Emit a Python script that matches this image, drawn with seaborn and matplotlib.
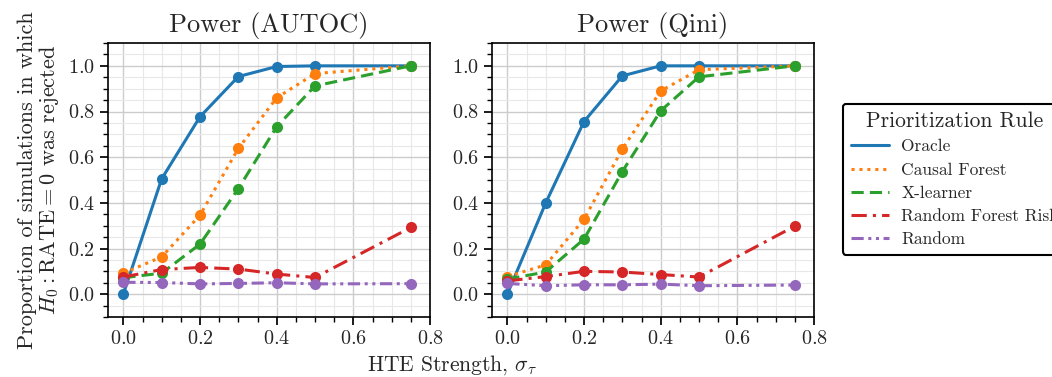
import numpy as np
import pandas as pd
import matplotlib
matplotlib.use("Agg")
import matplotlib.pyplot as plt
from matplotlib.lines import Line2D
from matplotlib.ticker import MultipleLocator
import seaborn as sns

strength = [0.0, 0.1, 0.2, 0.3, 0.4, 0.5, 0.75]
rules = ["Oracle", "Causal Forest", "X-learner", "Random Forest Risk", "Random"]

autoc_oracle = [0.0, 0.505, 0.777, 0.953, 0.997, 1.0, 1.0]
autoc_cf = [0.092, 0.163, 0.346, 0.638, 0.86, 0.966, 1.0]
autoc_xl = [0.072, 0.092, 0.219, 0.462, 0.733, 0.912, 1.0]
autoc_rfr = [0.075, 0.108, 0.117, 0.11, 0.088, 0.073, 0.292]
autoc_rand = [0.052, 0.051, 0.045, 0.047, 0.05, 0.045, 0.046]

qini_oracle = [0.0, 0.399, 0.756, 0.956, 1.0, 1.0, 1.0]
qini_cf = [0.077, 0.128, 0.328, 0.635, 0.89, 0.983, 1.0]
qini_xl = [0.066, 0.097, 0.241, 0.537, 0.803, 0.952, 1.0]
qini_rfr = [0.058, 0.077, 0.1, 0.097, 0.086, 0.075, 0.298]
qini_rand = [0.047, 0.037, 0.041, 0.041, 0.044, 0.037, 0.04]

titles = ["Power (AUTOC)", "Power (Qini)"]

def make_df(series):
    rows = []
    for rule, vals in zip(rules, series):
        for x, v in zip(strength, vals):
            rows.append({"strength": x, "power": v, "rule": rule})
    return pd.DataFrame(rows)

dfs = [make_df([autoc_oracle, autoc_cf, autoc_xl, autoc_rfr, autoc_rand]),
       make_df([qini_oracle, qini_cf, qini_xl, qini_rfr, qini_rand])]

sns.set_theme(style="ticks")
plt.rcParams["font.family"] = ["cmr10", "DejaVu Serif"]
plt.rcParams["mathtext.fontset"] = "cm"
plt.rcParams["axes.formatter.use_mathtext"] = True
plt.rcParams["axes.unicode_minus"] = False

palette = dict(zip(rules, sns.color_palette("tab10", 5)))
dashes = {"Oracle": "",
          "Causal Forest": (1, 1.6),
          "X-learner": (4, 2),
          "Random Forest Risk": (5, 2, 1, 2),
          "Random": (4, 1.5, 1, 1.5, 1, 1.5)}
markers = {r: "o" for r in rules}

fig = plt.figure(figsize=(10.52, 3.77), dpi=100)
W, H = 1052, 377
axes = [fig.add_axes([108 / W, 60 / H, 322 / W, 274 / H]),
        fig.add_axes([492 / W, 60 / H, 322 / W, 274 / H])]

for ax, df, title in zip(axes, dfs, titles):
    sns.lineplot(data=df, x="strength", y="power", hue="rule", style="rule",
                 palette=palette, dashes=dashes, markers=markers,
                 markersize=8, markeredgewidth=0, linewidth=2.2,
                 legend=False, ax=ax, zorder=3)
    ax.set_xlim(-0.04, 0.8)
    ax.set_ylim(-0.1, 1.1)
    ax.xaxis.set_major_locator(MultipleLocator(0.2))
    ax.xaxis.set_minor_locator(MultipleLocator(0.05))
    ax.yaxis.set_major_locator(MultipleLocator(0.2))
    ax.yaxis.set_minor_locator(MultipleLocator(0.05))
    ax.grid(which="major", color="#cccccc", linewidth=1.0)
    ax.grid(which="minor", color="#e8e8e8", linewidth=0.8)
    ax.set_axisbelow(True)
    ax.tick_params(which="both", direction="out", labelsize=14.5, color="black", pad=4)
    ax.tick_params(which="major", length=5.5)
    ax.tick_params(which="minor", length=3.5)
    for s in ax.spines.values():
        s.set_color("black")
        s.set_linewidth(1.2)
    ax.set_title(title, fontsize=19, pad=8)
    ax.set_xlabel("")
    ax.set_ylabel("")

axes[0].set_ylabel("Proportion of simulations in which\n$H_0: \\mathrm{RATE} = 0$ was rejected",
                   fontsize=16, labelpad=5, linespacing=1.0)
fig.text(452 / W, 1 - 365 / H, "HTE Strength, $\\sigma_\\tau$", ha="center", va="center",
         fontsize=15.5)

handles = [Line2D([0], [0], color=palette[r], linewidth=2.2,
                  dashes=dashes[r] if dashes[r] else (None, None)) for r in rules]
for h, r in zip(handles, rules):
    if not dashes[r]:
        h.set_linestyle("-")
leg = fig.legend(handles, rules, title="Prioritization Rule", loc="upper left",
                 bbox_to_anchor=(843 / W, 1 - 104 / H), fontsize=12.5, title_fontsize=15.5,
                 frameon=True, fancybox=True, handlelength=2.2, handletextpad=0.7,
                 borderpad=0.45, labelspacing=0.45, borderaxespad=0)
leg.get_frame().set_edgecolor("black")
leg.get_frame().set_linewidth(1.5)
leg.get_frame().set_alpha(1)

fig.savefig("out.png", dpi=100)
